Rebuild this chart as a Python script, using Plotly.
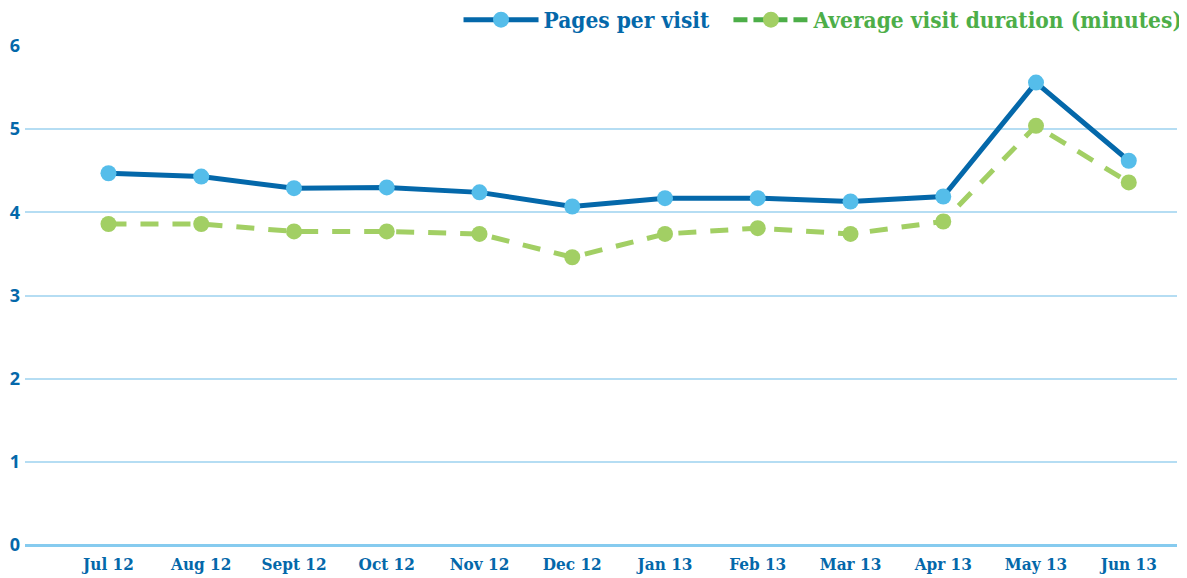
import plotly.graph_objects as go

months = ["Jul 12", "Aug 12", "Sept 12", "Oct 12", "Nov 12", "Dec 12",
          "Jan 13", "Feb 13", "Mar 13", "Apr 13", "May 13", "Jun 13"]
pages_per_visit = [4.47, 4.43, 4.29, 4.30, 4.24, 4.07, 4.17, 4.17, 4.13, 4.19, 5.56, 4.62]
avg_duration = [3.86, 3.86, 3.77, 3.77, 3.74, 3.46, 3.74, 3.81, 3.74, 3.89, 5.04, 4.36]
y_ticks = [0, 1, 2, 3, 4, 5, 6]

BLUE = "#0468AA"
LIGHTBLUE = "#55BDEA"
GREEN = "#A2CF64"
DKGREEN = "#4DAE48"
SLAB = "DejaVu Serif Condensed, DejaVu Serif, serif"

fig = go.Figure()
fig.add_trace(go.Scatter(
    x=months, y=pages_per_visit, mode="lines+markers", showlegend=False,
    line=dict(color=BLUE, width=5),
    marker=dict(color=LIGHTBLUE, size=16),
))
fig.add_trace(go.Scatter(
    x=months, y=avg_duration, mode="lines+markers", showlegend=False,
    line=dict(color=GREEN, width=5, dash="18px,14px"),
    marker=dict(color=GREEN, size=16),
))
# legend entries
fig.add_trace(go.Scatter(
    x=[None], y=[None], mode="lines+markers",
    name="<span style='color:%s'>Pages per visit&nbsp;&nbsp;</span>" % BLUE,
    line=dict(color=BLUE, width=5),
    marker=dict(color=LIGHTBLUE, size=16),
))
fig.add_trace(go.Scatter(
    x=[None], y=[None], mode="lines+markers",
    name="<span style='color:%s'>Average visit duration (minutes)</span>" % DKGREEN,
    line=dict(color=DKGREEN, width=5, dash="14px,6px"),
    marker=dict(color=GREEN, size=16),
))

fig.update_layout(
    width=1179, height=570,
    margin=dict(l=17, r=10, t=38, b=33, autoexpand=False),
    plot_bgcolor="white", paper_bgcolor="white",
    legend=dict(orientation="h", x=1.01, xanchor="right",
                y=1.009, yanchor="bottom",
                font=dict(family=SLAB, size=22.5, weight="bold"), itemwidth=75,
                bgcolor="rgba(0,0,0,0)", borderwidth=0),
    xaxis=dict(
        range=[-0.9, 11.52], showgrid=False, zeroline=False, showline=False,
        tickfont=dict(family=SLAB, size=17, color=BLUE, weight="bold"),
        ticks="", ticklabelstandoff=7, automargin=False,
    ),
    yaxis=dict(
        range=[0, 6], tickvals=y_ticks, showgrid=True,
        gridcolor="#B5DDF3", gridwidth=1.5,
        zeroline=True, zerolinecolor="#86CBEF", zerolinewidth=2.5,
        showline=False, ticks="", automargin=False,
        tickfont=dict(family="Open Sans, sans-serif", size=18, color=BLUE, weight="bold"),
        ticklabelstandoff=4,
    ),
)

fig.write_html("out.html")
